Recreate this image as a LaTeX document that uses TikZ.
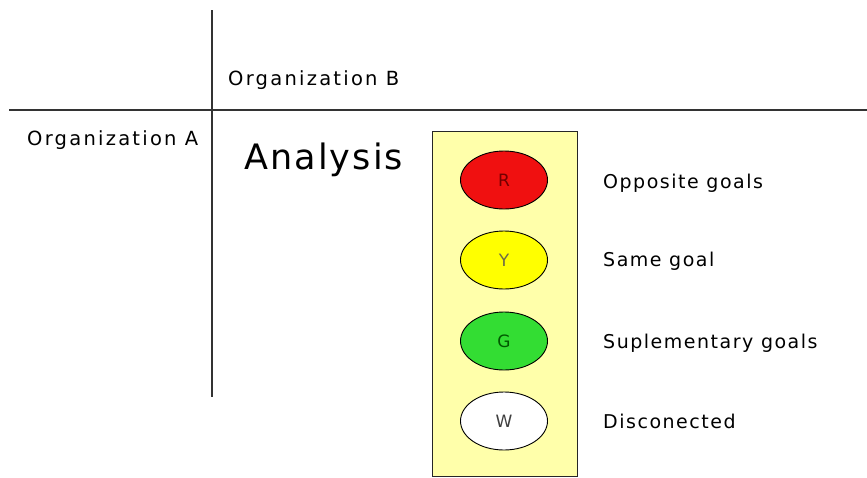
\documentclass[tikz,border=0pt]{standalone}
\usepackage{fontspec}
\setmainfont{DejaVu Sans}
\usetikzlibrary{shapes.geometric,positioning}
\definecolor{boxyellow}{HTML}{FFFFAA}
\definecolor{lampred}{HTML}{F01010}
\definecolor{lampyellow}{HTML}{FFFF00}
\definecolor{lampgreen}{HTML}{33DD33}
\tikzset{
  lamp/.style={ellipse, draw=black, line width=0.9pt, minimum width=87pt, minimum height=58pt,
    inner sep=0pt, font=\fontsize{17}{19}\selectfont},
  meaning/.style={anchor=west, inner sep=0pt,
    font=\fontsize{19}{23}\selectfont\addfontfeatures{LetterSpace=8}},
  orglabel/.style={anchor=west, inner sep=0pt,
    font=\fontsize{19.5}{23}\selectfont\addfontfeatures{LetterSpace=11.5}}
}

\begin{document}
\begin{tikzpicture}[x=1pt, y=-1pt]
    \useasboundingbox (0,0) rectangle (867,477);
    \coordinate (top) at (212,10);
    \coordinate (bottom) at (212,397);
    \coordinate (left) at (9,110);
    \coordinate (right) at (867,110);
    \draw[line width=1.2pt, black!80] (top) -- (bottom);
    \draw[line width=1.2pt, black!80] (left) -- (right);

    \node[orglabel] (orgB) at (228,80) {Organization B};
    \node[orglabel] (orgA) at (27,140) {Organization A};
    \node[anchor=west, inner sep=0pt,
      font=\fontsize{35}{40}\selectfont\addfontfeatures{LetterSpace=6}] (analysis) at (244,160) {Analysis};

    \node[draw=black!85, fill=boxyellow, line width=0.8pt, minimum width=145pt,
      minimum height=345pt, inner sep=0pt] (light) at (504.5,303.5) {};
    \node[lamp, fill=lampred, text=red!45!black] (R) at (504,180) {R};
    \node[lamp, fill=lampyellow, text=yellow!35!black] (Y) at (504,260) {Y};
    \node[lamp, fill=lampgreen, text=green!35!black] (G) at (504,341) {G};
    \node[lamp, fill=white, text=black!75] (W) at (504,421) {W};

    \node[meaning] (opposite) at (603,183) {Opposite goals};
    \node[meaning] (same) at (603,261) {Same goal};
    \node[meaning] (suple) at (603,343) {Suplementary goals};
    \node[meaning] (discon) at (603,421) {Disconected};
\end{tikzpicture}
\end{document}
